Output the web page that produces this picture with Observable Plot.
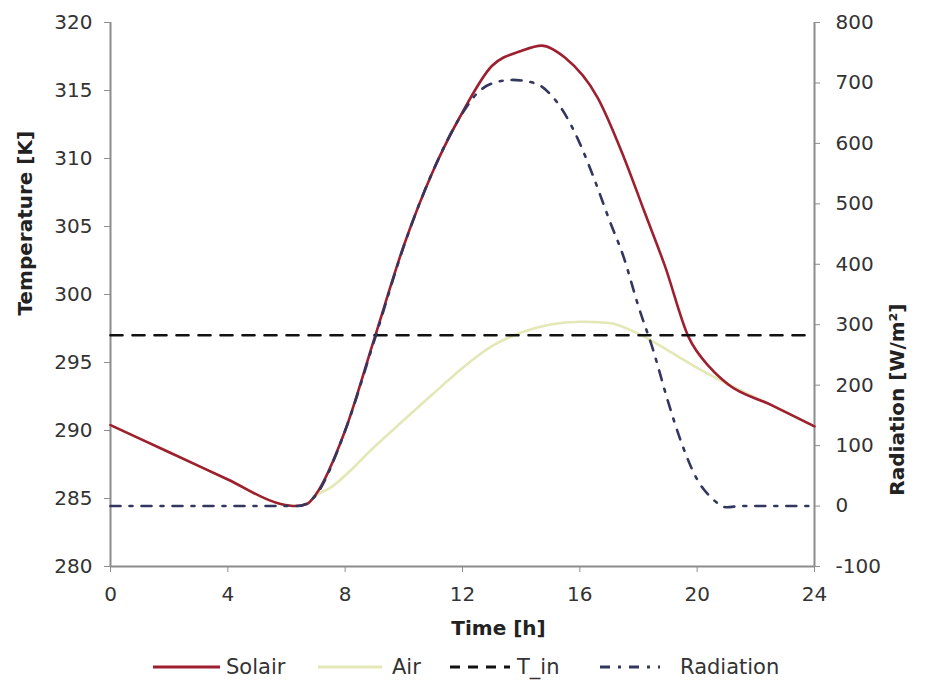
<!DOCTYPE html>
<html>
<head>
<meta charset="utf-8">
<script src="https://cdn.jsdelivr.net/npm/d3@7"></script>
<script src="https://cdn.jsdelivr.net/npm/@observablehq/plot@0.6"></script>
<style>
  html, body { margin: 0; padding: 0; background: #fff; }
  #chart { width: 930px; }
  #legend { width: 930px; height: 46px; }
</style>
</head>
<body>
<div id="chart"></div>
<div id="legend"></div>
<script>
// ---- data ----
const timeTicks = [0, 4, 8, 12, 16, 20, 24];
const tempTicks = [280, 285, 290, 295, 300, 305, 310, 315, 320];
const radTicks = [-100, 0, 100, 200, 300, 400, 500, 600, 700, 800];

const solairTime = [0, 2, 4, 5.8, 6.3, 6.7, 7, 8, 9, 10, 11, 12, 13, 14, 14.7, 15.5, 16.6, 17.5, 18.2, 18.9, 19.7, 20.45, 21.05, 22.5, 24];
const solairTemp = [290.4, 288.4, 286.4, 284.6, 284.45, 284.6, 285.3, 290.0, 296.8, 303.6, 309.1, 313.4, 316.8, 317.9, 318.3, 317.4, 314.5, 310.1, 306.1, 302.1, 296.9, 294.6, 293.4, 291.9, 290.3];

const airTime = [0, 2, 4, 5.8, 6.3, 6.7, 7, 7.5, 9, 11, 12, 13, 14, 15, 16, 17, 18, 19, 20, 20.6, 21.05, 22.5, 24];
const airTemp = [290.4, 288.4, 286.4, 284.6, 284.45, 284.6, 285.2, 285.8, 288.8, 292.7, 294.6, 296.2, 297.2, 297.8, 298.0, 297.9, 297.1, 295.9, 294.6, 293.9, 293.4, 291.9, 290.3];

const tInTime = [0, 24];
const tInTemp = [297, 297];

const radTime = [0, 3, 6.4, 7, 8, 9, 10, 11, 12, 12.5, 13, 13.7, 14.5, 15, 15.5, 16, 16.5, 17, 17.5, 18, 18.5, 19, 19.5, 20, 20.5, 21, 21.5, 24];
const radValue = [0, 0, 0, 18, 125, 275, 430, 555, 650, 683, 699, 705, 699, 681, 648, 600, 540, 474, 411, 330, 258, 174, 100, 44, 13, -2, 0, 0];

// ---- secondary axis mapping (radiation -100..800 onto temperature 280..320) ----
const toT = w => 280 + (w + 100) * 40 / 900;
const fromT = t => String(Math.round((t - 280) * 900 / 40 - 100));

const solair = solairTime.map((t, i) => ({t, v: solairTemp[i]}));
const air = airTime.map((t, i) => ({t, v: airTemp[i]}));
const tIn = tInTime.map((t, i) => ({t, v: tInTemp[i]}));
const rad = radTime.map((t, i) => ({t, v: radValue[i]}));

const colors = {Solair: "#9e1f30", Air: "#e4e7b6", T_in: "#111111", Radiation: "#33365f"};
const axisGray = "#8c8c8c";

const chart = Plot.plot({
  width: 930,
  height: 645,
  marginLeft: 110,
  marginRight: 116,
  marginTop: 22,
  marginBottom: 79,
  x: {domain: [0, 24]},
  y: {domain: [280, 320]},
  style: {fontFamily: "'DejaVu Sans', sans-serif", fontSize: "20px", color: "#333", background: "#fff", overflow: "visible"},
  marks: [
    Plot.ruleX([0, 24], {stroke: axisGray, strokeWidth: 2}),
    Plot.ruleY([280], {stroke: axisGray, strokeWidth: 2}),
    Plot.axisY(tempTicks, {anchor: "left", tickSize: 6, tickPadding: 12, stroke: axisGray, label: null}),
    Plot.axisY(radTicks.map(toT), {anchor: "right", tickSize: 5, tickPadding: 16, stroke: axisGray, tickFormat: fromT, label: null}),
    Plot.axisX(timeTicks, {anchor: "bottom", tickSize: 6, tickPadding: 14, stroke: axisGray, label: null}),
    Plot.line(air, {x: "t", y: "v", stroke: colors.Air, strokeWidth: 2.6, curve: "monotone-x"}),
    Plot.line(solair, {x: "t", y: "v", stroke: colors.Solair, strokeWidth: 2.6, curve: "monotone-x"}),
    Plot.line(tIn, {x: "t", y: "v", stroke: colors.T_in, strokeWidth: 2.6, strokeDasharray: "12,10"}),
    Plot.line(rad, {x: "t", y: d => toT(d.v), stroke: colors.Radiation, strokeWidth: 2.6, strokeDasharray: "10,9,3,9", curve: "monotone-x"}),
    Plot.text(["Temperature [K]"], {frameAnchor: "left", dx: -85, dy: 21, rotate: -90, fontWeight: "bold", fontSize: 20, fill: "#222"}),
    Plot.text(["Radiation [W/m²]"], {frameAnchor: "right", dx: 83, dy: 9, rotate: -90, fontWeight: "bold", fontSize: 20, fill: "#222"}),
    Plot.text(["Time [h]"], {frameAnchor: "bottom", dx: 36, dy: 68, fontWeight: "bold", fontSize: 20, fill: "#222"})
  ]
});
document.getElementById("chart").appendChild(chart);

// ---- legend ----
const legendItems = [
  {name: "Solair", x0: 153, x1: 220, tx: 226, dash: null},
  {name: "Air", x0: 318, x1: 382, tx: 392, dash: null},
  {name: "T_in", x0: 450, x1: 510, tx: 517, dash: "10,8"},
  {name: "Radiation", x0: 600, x1: 660, tx: 680, dash: "10,8,3,8"}
];
const lsvg = d3.select("#legend").append("svg")
  .attr("width", 930).attr("height", 46)
  .style("font-family", "'DejaVu Sans', sans-serif");
const lg = lsvg.selectAll("g").data(legendItems).join("g");
lg.append("line")
  .attr("x1", d => d.x0).attr("x2", d => d.x1)
  .attr("y1", 22).attr("y2", 22)
  .attr("stroke", d => colors[d.name]).attr("stroke-width", 2.8)
  .attr("stroke-dasharray", d => d.dash);
lg.append("text")
  .attr("x", d => d.tx).attr("y", 22).attr("dy", "0.35em")
  .attr("font-size", 21).attr("fill", "#333")
  .text(d => d.name);
</script>
</body>
</html>
